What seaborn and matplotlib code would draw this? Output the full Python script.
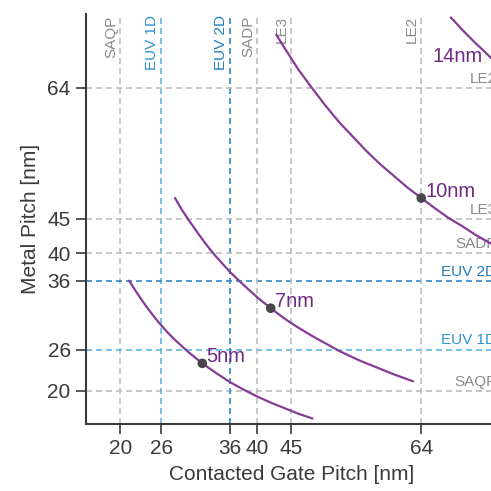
import matplotlib

matplotlib.use("Agg")
import matplotlib.pyplot as plt
import numpy as np
import pandas as pd
import seaborn as sns

# ---- data ----
# curves of constant CGP x MP per node
cgp_5nm = [21.3, 22, 23, 24, 25, 26, 27, 28, 29, 30, 32, 34, 36, 38, 40, 42, 44, 46, 48.1]
mp_5nm = [36.0, 34.9, 33.4, 32.0, 30.7, 29.5, 28.4, 27.4, 26.5, 25.6, 24.0, 22.6,
          21.3, 20.2, 19.2, 18.3, 17.5, 16.7, 16.0]
cgp_7nm = [28, 29, 30, 31, 32, 33, 34, 35, 36, 38, 40, 42, 44, 46, 48, 50, 52, 55, 58, 60, 62.8]
mp_7nm = [48.0, 46.3, 44.8, 43.4, 42.0, 40.7, 39.5, 38.4, 37.3, 35.4, 33.6, 32.0,
          30.5, 29.2, 28.0, 26.9, 25.8, 24.4, 23.2, 22.4, 21.4]
cgp_10nm = [42.8, 44, 46, 48, 50, 52, 54, 56, 58, 60, 62, 64, 66, 68, 70, 72, 74, 76]
mp_10nm = [71.7, 69.8, 66.7, 64.0, 61.4, 59.0, 56.9, 54.8, 52.9, 51.2, 49.5, 48.0,
           46.5, 45.1, 43.9, 42.6, 41.5, 40.4]
cgp_14nm = [68.3, 69, 70, 71, 72, 73, 74, 76]
mp_14nm = [74.2, 73.5, 72.4, 71.4, 70.4, 69.5, 68.5, 66.7]

# marked design points
node_names = ["5nm", "7nm", "10nm"]
node_cgp = [32, 42, 64]
node_mp = [24, 32, 48]

# patterning limits
limit_names = ["SAQP", "EUV 1D", "EUV 2D", "SADP", "LE3", "LE2"]
limit_cgp = [20, 26, 36, 40, 45, 64]
limit_mp = [20, 26, 36, 40, 45, 64]

# ---- style ----
sns.set_style("ticks")
plt.rcParams["font.family"] = ["Liberation Sans", "DejaVu Sans"]

PURPLE = "#843c94"
PURPLE_TXT = "#6e2a82"
GRAY_LINE = "#bdbdbd"
GRAY_TXT = "#8a8a8a"
line_colors = {"SAQP": GRAY_LINE, "EUV 1D": "#62b5e3", "EUV 2D": "#2f87c7",
               "SADP": GRAY_LINE, "LE3": GRAY_LINE, "LE2": GRAY_LINE}
text_colors = {"SAQP": GRAY_TXT, "EUV 1D": "#2d93d3", "EUV 2D": "#1f7cc0",
               "SADP": GRAY_TXT, "LE3": GRAY_TXT, "LE2": GRAY_TXT}

fig = plt.figure(figsize=(4.91, 4.91), dpi=100)
ax = fig.add_axes([0.1752, 0.1365, 0.836, 0.835])
XMIN, XMAX = 15, 75
YMIN, YMAX = 15.2, 74.7
ax.set_xlim(XMIN, XMAX)
ax.set_ylim(YMIN, YMAX)

# reference lines with labels
for name, xv, yv in zip(limit_names, limit_cgp, limit_mp):
    c = line_colors[name]
    ax.axvline(xv, color=c, lw=1.2, dashes=(3.6, 2.4), zorder=1)
    ax.axhline(yv, color=c, lw=1.2, dashes=(3.6, 2.4), zorder=1)
    ax.annotate(name, xy=(xv, YMAX), xytext=(-1.5, -1), textcoords="offset points",
                rotation=90, ha="right", va="top", fontsize=11,
                color=text_colors[name], annotation_clip=False)
    ax.annotate(name, xy=(XMAX, yv), xytext=(0, 1.5), textcoords="offset points",
                ha="right", va="bottom", fontsize=11,
                color=text_colors[name], annotation_clip=False)

# node curves
curves = pd.concat([
    pd.DataFrame({"cgp": cgp_5nm, "mp": mp_5nm, "node": "5nm"}),
    pd.DataFrame({"cgp": cgp_7nm, "mp": mp_7nm, "node": "7nm"}),
    pd.DataFrame({"cgp": cgp_10nm, "mp": mp_10nm, "node": "10nm"}),
    pd.DataFrame({"cgp": cgp_14nm, "mp": mp_14nm, "node": "14nm"}),
])
sns.lineplot(data=curves, x="cgp", y="mp", units="node", estimator=None,
             sort=False, color=PURPLE, lw=1.6, ax=ax, zorder=3)

points = pd.DataFrame({"cgp": node_cgp, "mp": node_mp, "node": node_names})
sns.scatterplot(data=points, x="cgp", y="mp", color="#474747", s=48,
                edgecolor="none", ax=ax, zorder=4)

for name, xv, yv in zip(node_names, node_cgp, node_mp):
    ax.annotate(name, xy=(xv, yv), xytext=(3, 1), textcoords="offset points",
                ha="left", va="baseline", fontsize=14.5, color=PURPLE_TXT)
ax.annotate("14nm", xy=(65.0, 67.5), xytext=(3, 1), textcoords="offset points",
            ha="left", va="baseline", fontsize=14.5, color=PURPLE_TXT)

# axes
ax.set_xticks(limit_cgp)
ax.set_yticks(limit_mp)
ax.set_xticklabels([str(v) for v in limit_cgp])
ax.set_yticklabels([str(v) for v in limit_mp])
ax.tick_params(axis="both", direction="out", length=7, width=1.2,
               color="#3a3a3a", labelcolor="#3a3a3a", labelsize=15, pad=4)
for side in ["top", "right"]:
    ax.spines[side].set_visible(False)
for side in ["left", "bottom"]:
    ax.spines[side].set_color("#3a3a3a")
    ax.spines[side].set_linewidth(1.5)

ax.set_xlabel("Contacted Gate Pitch [nm]", fontsize=15, color="#3a3a3a", labelpad=5)
ax.set_ylabel("Metal Pitch [nm]", fontsize=15, color="#3a3a3a", labelpad=5)

fig.savefig("out.png", dpi=100)
